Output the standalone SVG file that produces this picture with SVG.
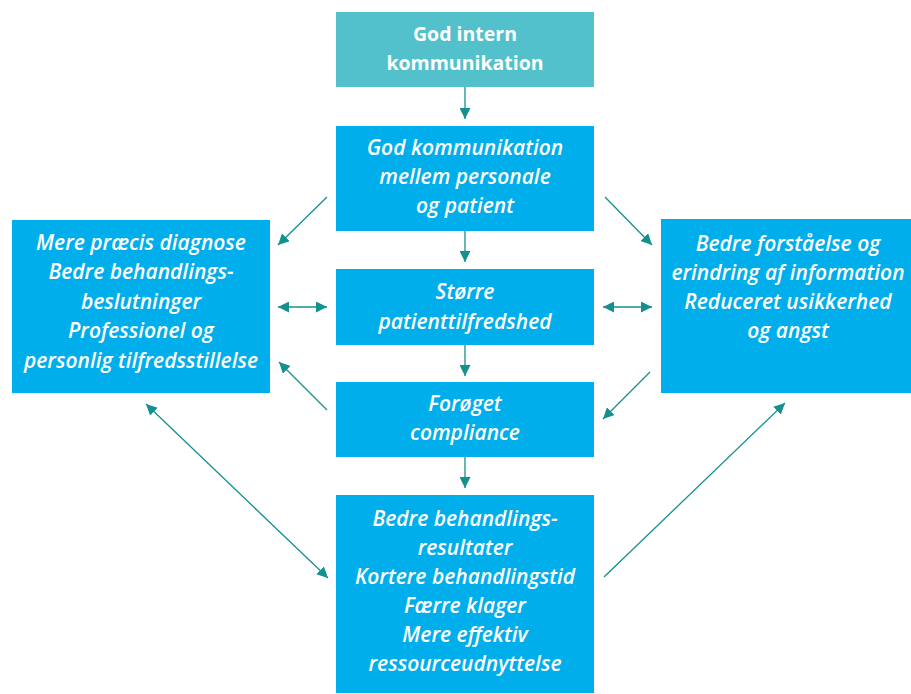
<svg xmlns="http://www.w3.org/2000/svg" width="911" height="694" viewBox="0 0 911 694">
<defs>
<marker id="ah" viewBox="0 0 10 10" refX="10" refY="5" markerWidth="11" markerHeight="11" markerUnits="userSpaceOnUse" orient="auto-start-reverse">
<path d="M0,0 L10,5 L0,10 z" fill="#14908f"/>
</marker>
<style>
.box{fill:#00aeec}
.top{fill:#52c1cb}
.t{font-family:"Open Sans","Liberation Sans",sans-serif;font-size:21px;fill:#ffffff;text-anchor:middle;font-style:italic;font-weight:600}
.b{font-family:"Open Sans","Liberation Sans",sans-serif;font-size:19.5px;fill:#ffffff;text-anchor:middle;font-weight:bold}
.c{stroke:#14908f;stroke-width:1.3;fill:none;marker-end:url(#ah)}
.d{stroke:#14908f;stroke-width:1.3;fill:none;marker-end:url(#ah);marker-start:url(#ah)}
</style>
</defs>
<rect width="911" height="694" fill="#ffffff"/>
<g id="n1">
<rect class="top" x="336" y="12" width="258" height="75"/>
<text class="b" x="465" y="41">God intern</text>
<text class="b" x="465" y="70">kommunikation</text>
</g>
<g id="n2">
<rect class="box" x="336" y="126" width="258" height="105"/>
<text class="t" x="465" y="155">God kommunikation</text>
<text class="t" x="465" y="184">mellem personale</text>
<text class="t" x="465" y="213">og patient</text>
</g>
<g id="n3">
<rect class="box" x="336" y="269" width="258" height="76"/>
<text class="t" x="465" y="299">Større</text>
<text class="t" x="465" y="329">patienttilfredshed</text>
</g>
<g id="n4">
<rect class="box" x="336" y="382" width="258" height="75"/>
<text class="t" x="465" y="411">Forøget</text>
<text class="t" x="465" y="440">compliance</text>
</g>
<g id="n5">
<rect class="box" x="336" y="495" width="258" height="198"/>
<text class="t" x="465" y="526">Bedre behandlings-</text>
<text class="t" x="465" y="555">resultater</text>
<text class="t" x="465" y="584">Kortere behandlingstid</text>
<text class="t" x="465" y="613">Færre klager</text>
<text class="t" x="465" y="642">Mere effektiv</text>
<text class="t" x="465" y="671">ressourceudnyttelse</text>
</g>
<g id="nL">
<rect class="box" x="12" y="220" width="258" height="173"/>
<text class="t" x="141" y="250">Mere præcis diagnose</text>
<text class="t" x="141" y="279">Bedre behandlings-</text>
<text class="t" x="141" y="309">beslutninger</text>
<text class="t" x="141" y="338">Professionel og</text>
<text class="t" x="141" y="368">personlig tilfredsstillelse</text>
</g>
<g id="nR">
<rect class="box" x="661" y="219" width="250" height="174"/>
<text class="t" x="788" y="251">Bedre forståelse og</text>
<text class="t" x="788" y="280">erindring af information</text>
<text class="t" x="788" y="309">Reduceret usikkerhed</text>
<text class="t" x="788" y="338">og angst</text>
</g>
<g id="connectors">
<line class="c" x1="465" y1="87" x2="465" y2="119"/>
<line class="c" x1="465" y1="231" x2="465" y2="262"/>
<line class="c" x1="465" y1="345" x2="465" y2="376"/>
<line class="c" x1="465" y1="457" x2="465" y2="488"/>
<line class="c" x1="327" y1="197" x2="278" y2="245"/>
<line class="c" x1="605" y1="197" x2="652" y2="245"/>
<line class="d" x1="278" y1="307" x2="327" y2="307"/>
<line class="d" x1="603" y1="307" x2="652" y2="307"/>
<line class="c" x1="327" y1="410" x2="279" y2="362"/>
<line class="c" x1="650" y1="372" x2="603" y2="419"/>
<line class="d" x1="146" y1="404" x2="328" y2="578"/>
<line class="c" x1="604" y1="577" x2="785" y2="403"/>
</g>
</svg>
